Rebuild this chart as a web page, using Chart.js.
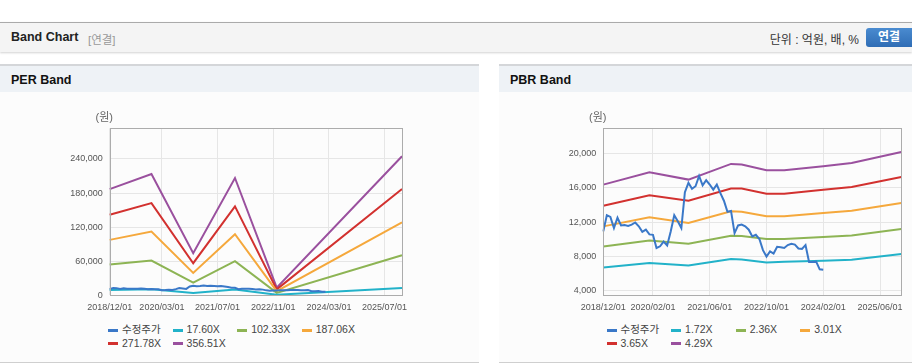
<!DOCTYPE html>
<html>
<head>
<meta charset="utf-8">
<script src="https://cdn.jsdelivr.net/npm/chart.js@4.4.0/dist/chart.umd.min.js"></script>
<style>
  body { margin: 0; width: 912px; height: 364px; position: relative; overflow: hidden; background: #fff;
         font-family: 'Liberation Sans', 'Noto Sans CJK KR', sans-serif; }
  .topbar { position: absolute; left: 0; top: 22px; width: 912px; height: 29px; background: #f4f4f4;
            border-top: 1px solid #aaa; box-shadow: 0 1px 2px rgba(0,0,0,0.18); }
  .topbar .ttl { position: absolute; left: 11px; top: 7px; font-size: 12.5px; font-weight: bold; color: #222; }
  .topbar .sub { position: absolute; left: 88px; top: 8px; font-size: 11.5px; color: #999; }
  .topbar .unit { position: absolute; right: 53px; top: 7px; font-size: 12px; color: #333; }
  .topbar .btn { position: absolute; left: 866px; top: 5px; width: 50px; height: 19px; border-radius: 3px;
                 background: linear-gradient(#4a8bd0, #2f6db5); color: #fff; font-size: 12px; font-weight: bold;
                 line-height: 19px; text-indent: 12px; }
  .panel { position: absolute; top: 64px; height: 296px; background: #fcfcfc;
           border-top: 2px solid #d4d6d9; border-bottom: 1px solid #cfcfcf; }
  .panel .ph { height: 26px; line-height: 28px; background: #eef2f6; padding-left: 11px;
               font-size: 12.5px; font-weight: bold; color: #111; }
  .cv { position: absolute; top: 92px; }
  .legend { position: absolute; top: 323px; font-size: 10.5px; color: #444; line-height: 13.7px; }
  .legend .item { display: inline-block; width: 64.6px; white-space: nowrap; }
  .legend .mk { display: inline-block; width: 10px; height: 3px; margin-right: 4px; vertical-align: middle; }
</style>
</head>
<body>
<div class="topbar">
  <span class="ttl">Band Chart</span><span class="sub">[연결]</span>
  <span class="unit">단위 : 억원, 배, %</span>
  <span class="btn">연결</span>
</div>
<div class="panel" style="left:0;width:479px"><div class="ph">PER Band</div></div>
<div class="panel" style="left:499px;width:413px"><div class="ph">PBR Band</div></div>

<canvas id="perChart" class="cv" style="left:0" width="479" height="225"></canvas>
<canvas id="pbrChart" class="cv" style="left:499px" width="413" height="225"></canvas>
<div id="perLegend" class="legend" style="left:108px;width:300px"></div>
<div id="pbrLegend" class="legend" style="left:606.5px;width:300px"></div>

<script>
// monthly categories 2018/12 .. 2025/12
const months = [];
for (let y = 2018, m = 12; months.length < 85; m++) {
  if (m > 12) { m = 1; y++; }
  months.push(y + '/' + String(m).padStart(2, '0') + '/01');
}

const perTickLabels = ['2018/12/01', '2020/03/01', '2021/07/01', '2022/11/01', '2024/03/01', '2025/07/01'];
const pbrTickLabels = ['2018/12/01', '2020/02/01', '2021/06/01', '2022/10/01', '2024/02/01', '2025/06/01'];
const perYTicks = [0, 60000, 120000, 180000, 240000];
const pbrYTicks = [4000, 8000, 12000, 16000, 20000];

// 수정주가 (monthly, 2018/12 .. 2024/02)
const price = [10900, 12800, 12600, 11300, 12500, 11600, 11650, 11550, 11700, 11950,
  11500, 10850, 11100, 10550, 10500, 8950, 9150, 9700, 9250, 10900,
  12800, 12100, 11300, 15500, 16600, 15900, 16200, 17400, 16300, 16900,
  16400, 15800, 16400, 15400, 14500, 13200, 13300, 10700, 11600, 11700,
  11500, 11100, 10300, 10500, 10000, 8700, 7950, 8550, 8300, 9100,
  9050, 8950, 9300, 9450, 9350, 8900, 8850, 9300, 7300, 7300,
  7350, 6450, 6400];

// PER band
const perMonths = ['2018/12/01', '2019/12/01', '2020/12/01', '2021/12/01', '2022/12/01', '2025/12/01'];
const per1760 = [9300, 10800, 4000, 10400, 800, 12800];
const per10233 = [54100, 61200, 22400, 60000, 4200, 70600];
const per18706 = [97600, 112300, 39400, 107600, 7400, 128200];
const per27178 = [141800, 162300, 56500, 156500, 10500, 187000];
const per35651 = [187000, 213500, 74100, 206500, 13500, 244700];

// PBR band
const pbrMonths = ['2018/12/01', '2020/01/01', '2020/12/01', '2021/12/01', '2022/03/01',
  '2022/10/01', '2023/03/01', '2024/02/01', '2024/10/01', '2025/12/01'];
const pbr172 = [6670, 7180, 6900, 7650, 7600, 7260, 7340, 7450, 7570, 8240];
const pbr236 = [9140, 9840, 9450, 10390, 10350, 10000, 10000, 10240, 10430, 11180];
const pbr301 = [11490, 12550, 11880, 13250, 13200, 12670, 12670, 13060, 13330, 14230];
const pbr365 = [13920, 15140, 14510, 15920, 15920, 15330, 15330, 15800, 16120, 17290];
const pbr429 = [16390, 17840, 16980, 18820, 18740, 18080, 18080, 18550, 18940, 20230];

const colors = ['#3a78c8', '#22b2c9', '#8db454', '#f5a83c', '#d2312f', '#9a509e'];

function pairs(xs, ys) {
  return xs.map((x, i) => ({ x: x, y: ys[i] }));
}

function makeDatasets(names, series) {
  return names.map((name, i) => ({
    label: name,
    data: series[i],
    borderColor: colors[i],
    backgroundColor: colors[i],
    borderWidth: 2,
    pointRadius: 0,
    spanGaps: true,
    fill: false
  }));
}

// plot frame and "(원)" label
const framePlugin = {
  id: 'frame',
  afterDraw(chart) {
    const a = chart.chartArea;
    const ctx = chart.ctx;
    ctx.save();
    ctx.strokeStyle = '#acacac';
    ctx.lineWidth = 1;
    ctx.strokeRect(Math.round(a.left) + 0.5, Math.round(a.top) + 0.5,
      Math.round(a.right - a.left), Math.round(a.bottom - a.top));
    ctx.fillStyle = '#666';
    ctx.font = '11px "Liberation Sans", "Noto Sans CJK KR", sans-serif';
    ctx.textAlign = 'center';
    ctx.textBaseline = 'middle';
    ctx.fillText('(원)', a.left - 5.5, a.top - 10);
    ctx.restore();
  }
};

function getBandConfig(datasets, tickLabels, yTicks, yMin, yMax, yWidth, padRight) {
  return {
    type: 'line',
    data: { labels: months, datasets: datasets },
    options: {
      responsive: false,
      animation: false,
      layout: { padding: { top: 36.3, right: padRight, left: 0, bottom: 0 } },
      plugins: { legend: { display: false }, tooltip: { enabled: false } },
      scales: {
        x: {
          type: 'category',
          offset: false,
          border: { display: false },
          grid: { color: '#e6e6e6', drawTicks: false },
          ticks: {
            autoSkip: false,
            maxRotation: 0,
            padding: 7,
            color: '#555',
            font: { size: 9, family: '"Liberation Sans", sans-serif' },
            callback: function (value) {
              const lbl = this.getLabelForValue(value);
              return tickLabels.includes(lbl) ? lbl : null;
            }
          },
          afterFit: s => { s.height = 21.7; }
        },
        y: {
          min: yMin,
          max: yMax,
          border: { display: false },
          grid: { color: '#e6e6e6', drawTicks: false },
          afterBuildTicks: s => { s.ticks = yTicks.map(v => ({ value: v })); },
          ticks: {
            padding: 7,
            color: '#555',
            font: { size: 9, family: '"Liberation Sans", sans-serif' },
            callback: v => v.toLocaleString('en-US')
          },
          afterFit: s => { s.width = yWidth; }
        }
      }
    },
    plugins: [framePlugin]
  };
}

function buildLegend(chart, id) {
  const box = document.getElementById(id);
  chart.data.datasets.forEach(ds => {
    const item = document.createElement('span');
    item.className = 'item';
    const mk = document.createElement('span');
    mk.className = 'mk';
    mk.style.background = ds.borderColor;
    item.appendChild(mk);
    item.appendChild(document.createTextNode(ds.label));
    box.appendChild(item);
  });
}

const perSets = makeDatasets(
  ['수정주가', '17.60X', '102.33X', '187.06X', '271.78X', '356.51X'],
  [price, pairs(perMonths, per1760), pairs(perMonths, per10233), pairs(perMonths, per18706),
    pairs(perMonths, per27178), pairs(perMonths, per35651)]);
const pbrSets = makeDatasets(
  ['수정주가', '1.72X', '2.36X', '3.01X', '3.65X', '4.29X'],
  [price, pairs(pbrMonths, pbr172), pairs(pbrMonths, pbr236), pairs(pbrMonths, pbr301),
    pairs(pbrMonths, pbr365), pairs(pbrMonths, pbr429)]);

const perChart = new Chart(document.getElementById('perChart').getContext('2d'),
  getBandConfig(perSets, perTickLabels, perYTicks, 0, 294000, 109.7, 77));
const pbrChart = new Chart(document.getElementById('pbrChart').getContext('2d'),
  getBandConfig(pbrSets, pbrTickLabels, pbrYTicks, 3400, 23000, 104.3, 10.7));

buildLegend(perChart, 'perLegend');
buildLegend(pbrChart, 'pbrLegend');
</script>
</body>
</html>
